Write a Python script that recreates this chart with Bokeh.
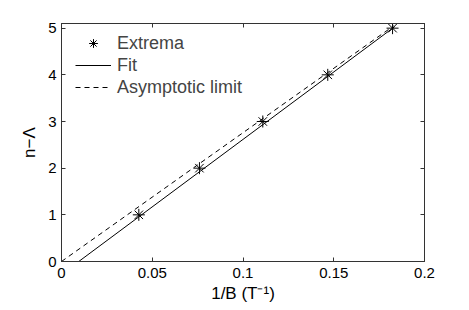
from bokeh.plotting import figure
from bokeh.models import (LinearAxis, FixedTicker, Legend, LegendItem, Range1d,
                          CustomJSTickFormatter)
from bokeh.embed import file_html
from bokeh.resources import INLINE

# Data
extrema_x = [0.0426, 0.0760, 0.1109, 0.1467, 0.1824]
extrema_y = [1, 2, 3, 4, 5]
fit_x = [0.0095, 0.1835]
fit_y = [0.0, 5.03]
asym_x = [0.0, 0.1830]
asym_y = [0.0, 5.05]
x_ticks = [0, 0.05, 0.1, 0.15, 0.2]
x_tick_labels = ["0", "0.05", "0.1", "0.15", "0.2"]
y_ticks = [0, 1, 2, 3, 4, 5]

FONT = "Liberation Sans"
FS = "15px"
FS_LABEL = "17px"
FS_LEGEND = "18px"

p = figure(width=466, height=306, output_backend="svg", toolbar_location=None,
           x_range=Range1d(0, 0.2), y_range=Range1d(0, 5.1),
           min_border_left=61, min_border_right=42, min_border_top=23,
           min_border_bottom=45, x_axis_location=None, y_axis_location=None)
p.frame_width = 363
p.frame_height = 238
p.grid.visible = False
p.outline_line_color = "#333333"
p.background_fill_color = "white"
p.border_fill_color = "white"

def style(ax, labels=True):
    ax.major_tick_in = 4
    ax.major_tick_out = 0
    ax.minor_tick_line_color = None
    ax.axis_line_color = "#333333"
    ax.major_tick_line_color = "#333333"
    ax.major_label_text_font = FONT
    ax.major_label_text_font_size = FS
    ax.major_label_text_color = "black"
    ax.axis_label_text_font = FONT
    ax.axis_label_text_font_size = FS_LABEL
    ax.axis_label_text_font_style = "normal"
    ax.axis_label_text_color = "black"
    if not labels:
        ax.formatter = CustomJSTickFormatter(code="return ''")
        ax.major_label_standoff = 0

xb = LinearAxis(ticker=FixedTicker(ticks=x_ticks), axis_label="1/B (T\u207b\u00b9)")
style(xb)
xb.major_label_overrides = {t: l for t, l in zip(x_ticks, x_tick_labels)}
xb.major_label_standoff = 6
xb.axis_label_standoff = 3
p.add_layout(xb, "below")

yl = LinearAxis(ticker=FixedTicker(ticks=y_ticks), axis_label="n\u2212\u039b")
style(yl)
yl.major_label_standoff = 5
yl.axis_label_standoff = 6
p.add_layout(yl, "left")

xt = LinearAxis(ticker=FixedTicker(ticks=x_ticks))
style(xt, labels=False)
p.add_layout(xt, "above")
yr = LinearAxis(ticker=FixedTicker(ticks=y_ticks))
style(yr, labels=False)
p.add_layout(yr, "right")

r_asym = p.line(asym_x, asym_y, line_color="black", line_width=1, line_dash="5 4")
r_fit = p.line(fit_x, fit_y, line_color="black", line_width=1)
r_ext = p.scatter(extrema_x, extrema_y, marker="asterisk", size=12,
                  line_color="black", line_width=1)

legend = Legend(items=[LegendItem(label="Extrema", renderers=[r_ext]),
                       LegendItem(label="Fit", renderers=[r_fit]),
                       LegendItem(label="Asymptotic limit", renderers=[r_asym])],
                location=(14, 163), padding=0, margin=0, spacing=0,
                glyph_width=36, glyph_height=22, label_height=22,
                label_standoff=6, border_line_color=None,
                background_fill_alpha=0,
                label_text_font=FONT, label_text_font_size=FS_LEGEND)
p.add_layout(legend, "center")

open("out.html", "w").write(file_html(p, INLINE))
